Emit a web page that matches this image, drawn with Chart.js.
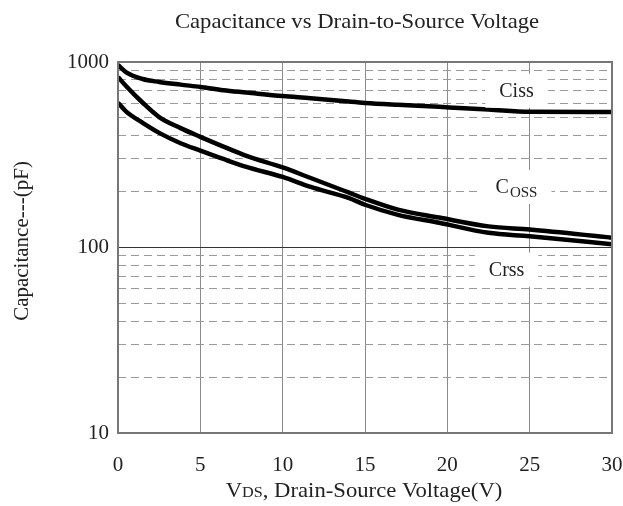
<!DOCTYPE html>
<html>
<head>
<meta charset="utf-8">
<script src="https://cdn.jsdelivr.net/npm/chart.js@4.4.0/dist/chart.umd.min.js"></script>
<style>
  html, body { margin: 0; padding: 0; background: #fff; }
  #wrap { width: 623px; height: 506px; }
</style>
</head>
<body>
<div id="wrap"><canvas id="capChart" width="623" height="506"></canvas></div>
<script>
// Values
const vds  = [0, 0.5, 1.5, 2.5, 3.8, 5, 6.4, 7.8, 10, 11.7, 14, 15, 17, 19.5, 22.5, 25, 30];
const ciss = [963, 880, 810, 781, 755, 734, 705, 685, 655, 638, 612, 602, 588, 573, 555, 539, 537];
const coss = [830, 740, 603, 505, 440, 395, 350, 312, 270, 237, 198, 183, 160, 145, 130, 125, 113];
const crss = [603, 540, 470, 415, 365, 333, 300, 272, 240, 212, 185, 170, 150, 136, 120, 115, 104];

// axis ticks
const xTicks = [0, 5, 10, 15, 20, 25, 30];
const yTicks = [10, 20, 30, 40, 50, 60, 70, 80, 90, 100, 200, 300, 400, 500, 600, 700, 800, 900, 1000];
const yLabels = [10, 100, 1000];

// curve names, placed in data coordinates
const curveLabels = [
  { main: 'Ciss', sub: '', x: 24.2, y: 700 },
  { main: 'C', sub: 'OSS', x: 24.2, y: 212 },
  { main: 'Crss', sub: '', x: 23.6, y: 76 }
];

const SERIF = '"Liberation Serif", "DejaVu Serif", serif';

function toPoints(ys) {
  return vds.map((v, i) => ({ x: v, y: ys[i] }));
}

function curve(name, ys) {
  return {
    label: name,
    data: toPoints(ys),
    borderColor: '#000',
    borderWidth: 4.5,
    pointRadius: 0,
    fill: false,
    cubicInterpolationMode: 'monotone'
  };
}

// draw text slightly wider, the original font runs wide
function wideText(ctx, text, x, y, stretch) {
  ctx.save();
  ctx.translate(x, y);
  ctx.scale(stretch, 1);
  ctx.fillText(text, 0, 0);
  ctx.restore();
}

// Plugin for the frame, the curve names and the titles
const decor = {
  id: 'decor',
  beforeDraw(chart) {
    const ctx = chart.ctx;
    ctx.save();
    ctx.fillStyle = '#fff';
    ctx.fillRect(0, 0, chart.width, chart.height);
    ctx.restore();
  },
  afterDatasetsDraw(chart) {
    const ctx = chart.ctx;
    const a = chart.chartArea;
    const xs = chart.scales.x, ys = chart.scales.y;
    ctx.save();

    // plot frame
    ctx.strokeStyle = '#777';
    ctx.lineWidth = 2;
    ctx.strokeRect(a.left, a.top, a.right - a.left, a.bottom - a.top);

    // curve names on white boxes
    ctx.textBaseline = 'alphabetic';
    curveLabels.forEach(lb => {
      const cx = xs.getPixelForValue(lb.x);
      const cy = ys.getPixelForValue(lb.y);
      ctx.font = '20px ' + SERIF;
      const wMain = ctx.measureText(lb.main).width;
      ctx.font = '15px ' + SERIF;
      const wSub = lb.sub ? ctx.measureText(lb.sub).width + 1 : 0;
      const w = wMain + wSub;
      ctx.fillStyle = '#fff';
      ctx.fillRect(cx - w / 2 - 14, cy - 17, w + 28, 34);
      ctx.fillStyle = '#222';
      ctx.textAlign = 'left';
      ctx.font = '20px ' + SERIF;
      ctx.fillText(lb.main, cx - w / 2, cy + 6);
      if (lb.sub) {
        ctx.font = '15px ' + SERIF;
        ctx.fillText(lb.sub, cx - w / 2 + wMain + 1, cy + 10);
      }
    });

    // chart title
    ctx.fillStyle = '#222';
    ctx.textAlign = 'left';
    ctx.font = '21px ' + SERIF;
    const title = 'Capacitance vs Drain-to-Source Voltage';
    const tw = ctx.measureText(title).width * 1.08;
    wideText(ctx, title, 357 - tw / 2, 28, 1.08);

    // x axis title with the VDS subscript
    const parts = [['V', '21px '], ['DS', '15px '], [', Drain-Source Voltage(V)', '21px ']];
    let total = 0;
    parts.forEach(p => { ctx.font = p[1] + SERIF; total += ctx.measureText(p[0]).width * 1.08; });
    let px = 364 - total / 2;
    parts.forEach(p => {
      ctx.font = p[1] + SERIF;
      wideText(ctx, p[0], px, 497, 1.08);
      px += ctx.measureText(p[0]).width * 1.08;
    });

    // y axis title
    ctx.translate(28, 241);
    ctx.rotate(-Math.PI / 2);
    ctx.textAlign = 'center';
    ctx.font = '21px ' + SERIF;
    ctx.fillText('Capacitance---(pF)', 0, 0);
    ctx.restore();
  }
};

new Chart(document.getElementById('capChart'), {
  type: 'line',
  data: {
    datasets: [curve('Ciss', ciss), curve('Coss', coss), curve('Crss', crss)]
  },
  options: {
    responsive: false,
    animation: false,
    devicePixelRatio: 1,
    layout: { padding: { top: 62, right: 11, left: 0, bottom: 0 } },
    plugins: {
      legend: { display: false },
      title: { display: false },
      tooltip: { enabled: false }
    },
    scales: {
      x: {
        type: 'linear',
        min: 0,
        max: 30,
        afterBuildTicks: s => { s.ticks = xTicks.map(v => ({ value: v })); },
        afterFit: s => { s.height = 73; s.paddingLeft = 0; s.paddingRight = 0; },
        ticks: {
          color: '#222',
          padding: 20,
          maxRotation: 0,
          font: { family: SERIF, size: 21 }
        },
        grid: {
          drawTicks: false,
          lineWidth: 1,
          color: c => (c.tick && c.tick.value > 0 && c.tick.value < 30) ? '#8c8c8c' : 'rgba(0,0,0,0)'
        },
        border: { display: false }
      },
      y: {
        type: 'logarithmic',
        min: 10,
        max: 1000,
        afterBuildTicks: s => { s.ticks = yTicks.map(v => ({ value: v })); },
        afterFit: s => { s.width = 118; s.paddingTop = 0; s.paddingBottom = 0; },
        ticks: {
          color: '#222',
          padding: 9,
          autoSkip: false,
          font: { family: SERIF, size: 21 },
          callback: v => yLabels.includes(v) ? String(v) : ''
        },
        grid: {
          drawTicks: false,
          lineWidth: 1,
          color: c => {
            if (!c.tick) return 'rgba(0,0,0,0)';
            const v = c.tick.value;
            if (v === 10 || v === 1000) return 'rgba(0,0,0,0)';
            if (v === 100) return '#333';
            return '#9a9a9a';
          }
        },
        border: {
          display: false,
          dash: c => (c.tick && !yLabels.includes(c.tick.value)) ? [8, 5] : []
        }
      }
    }
  },
  plugins: [decor]
});
</script>
</body>
</html>
